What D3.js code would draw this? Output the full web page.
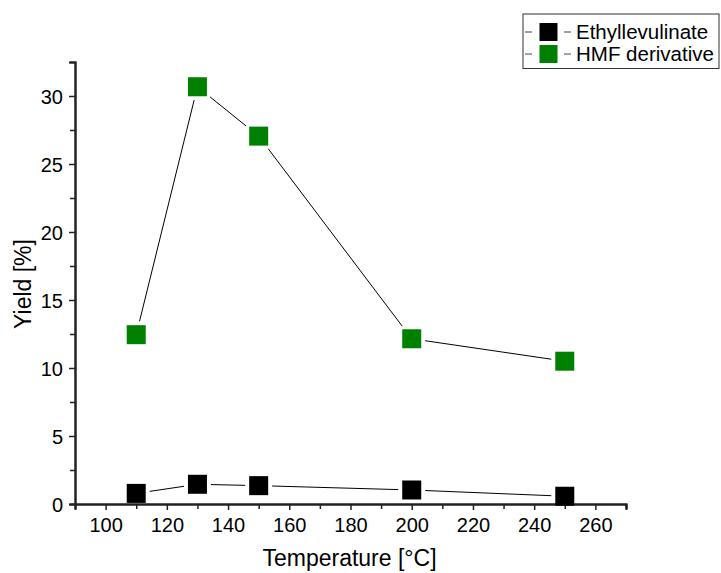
<!DOCTYPE html>
<html>
<head>
<meta charset="utf-8">
<script src="https://cdn.jsdelivr.net/npm/d3@7"></script>
<style>
  body { margin: 0; background: #fff; }
  text { font-family: "Liberation Sans", Arial, sans-serif; fill: #000; }
</style>
</head>
<body>
<div id="container"></div>
<script>
// temperature / yield data
const temperatures = [110, 130, 150, 200, 250];
const ethylLevulinate = [0.78, 1.45, 1.35, 1.03, 0.57];
const hmfDerivative = [12.45, 30.68, 27.05, 12.15, 10.5];
const seriesNames = ['Ethyllevulinate', 'HMF derivative'];
const seriesColors = ['#000000', '#008000'];
const xTicks = [100, 120, 140, 160, 180, 200, 220, 240, 260];
const yTicks = [0, 5, 10, 15, 20, 25, 30];

// set chart dimensions
const w = 721;
const h = 573;
const plotLeft = 75, plotRight = 626, plotTop = 62, plotBottom = 504;
const markerSize = 19;
const gap = 4;

// set x and y scales
const xScale = d3.scaleLinear().domain([90, 270]).range([plotLeft, plotRight]);
const yScale = d3.scaleLinear().domain([0, 32.5]).range([plotBottom, plotTop]);

// create svg area in container
const svg = d3.select('#container')
    .append('svg')
    .attr('width', w)
    .attr('height', h);

// axes: major ticks with labels, minor ticks in between
const xAxis = d3.axisBottom(xScale).tickValues(xTicks).tickSize(6).tickPadding(8);
const xMinor = d3.axisBottom(xScale).tickValues(d3.range(90, 271, 10).filter(v => !xTicks.includes(v)))
    .tickSize(5).tickFormat('');
const yAxis = d3.axisLeft(yScale).tickValues(yTicks).tickSize(6).tickPadding(6);
const yMinor = d3.axisLeft(yScale).tickValues(d3.range(2.5, 32.5, 5)).tickSize(5).tickFormat('');

svg.append('g').attr('transform', `translate(0, ${plotBottom})`).call(xAxis);
svg.append('g').attr('transform', `translate(0, ${plotBottom})`).call(xMinor);
const gy = svg.append('g').attr('transform', `translate(${plotLeft}, 0)`).call(yAxis);
svg.append('g').attr('transform', `translate(${plotLeft}, 0)`).call(yMinor);

svg.selectAll('.domain').attr('stroke', '#222').attr('stroke-width', 2);
svg.selectAll('.tick line').attr('stroke', '#222').attr('stroke-width', 1.5);
svg.selectAll('.tick text').style('font-size', '20px').attr('fill', '#000');
gy.selectAll('.tick text').attr('dy', '0.36em');

// axis titles
svg.append('text')
    .attr('x', (plotLeft + plotRight) / 2 - 1)
    .attr('y', 566)
    .attr('text-anchor', 'middle')
    .style('font-size', '23px')
    .text('Temperature [°C]');

svg.append('text')
    .attr('transform', `translate(31, ${(plotTop + plotBottom) / 2 + 1}) rotate(-90)`)
    .attr('text-anchor', 'middle')
    .style('font-size', '23px')
    .text('Yield [%]');

// lines with gaps around the markers, then markers
[ethylLevulinate, hmfDerivative].forEach((values, i) => {
    const pts = temperatures.map((t, j) => [xScale(t), yScale(values[j])]);
    const g = svg.append('g');
    for (let j = 0; j < pts.length - 1; j++) {
        const [x1, y1] = pts[j], [x2, y2] = pts[j + 1];
        const dx = x2 - x1, dy = y2 - y1;
        const len = Math.hypot(dx, dy);
        const ux = dx / len, uy = dy / len;
        // distance from center to square edge along the direction, plus gap
        const edge = (markerSize / 2) / Math.max(Math.abs(ux), Math.abs(uy)) + gap;
        if (len <= 2 * edge) continue;
        g.append('line')
            .attr('x1', x1 + ux * edge).attr('y1', y1 + uy * edge)
            .attr('x2', x2 - ux * edge).attr('y2', y2 - uy * edge)
            .attr('stroke', '#000').attr('stroke-width', 1);
    }
    g.selectAll('rect')
        .data(pts)
        .join('rect')
        .attr('x', d => d[0] - markerSize / 2)
        .attr('y', d => d[1] - markerSize / 2)
        .attr('width', markerSize)
        .attr('height', markerSize)
        .attr('fill', seriesColors[i]);
});

// legend
const legend = svg.append('g');
legend.append('rect')
    .attr('x', 523).attr('y', 14)
    .attr('width', 196).attr('height', 54.5)
    .attr('fill', '#fff').attr('stroke', '#333').attr('stroke-width', 1);

seriesNames.forEach((name, i) => {
    const cy = 32 + i * 22;
    const row = legend.append('g');
    row.append('line').attr('x1', 525).attr('x2', 532).attr('y1', cy).attr('y2', cy)
        .attr('stroke', '#444').attr('stroke-width', 1);
    row.append('line').attr('x1', 564).attr('x2', 571).attr('y1', cy).attr('y2', cy)
        .attr('stroke', '#444').attr('stroke-width', 1);
    row.append('rect')
        .attr('x', 539.5).attr('y', cy - 9)
        .attr('width', 18).attr('height', 18)
        .attr('fill', seriesColors[i]);
    row.append('text')
        .attr('x', 576).attr('y', cy)
        .attr('dy', '0.36em')
        .style('font-size', '20.5px')
        .text(name);
});
</script>
</body>
</html>
